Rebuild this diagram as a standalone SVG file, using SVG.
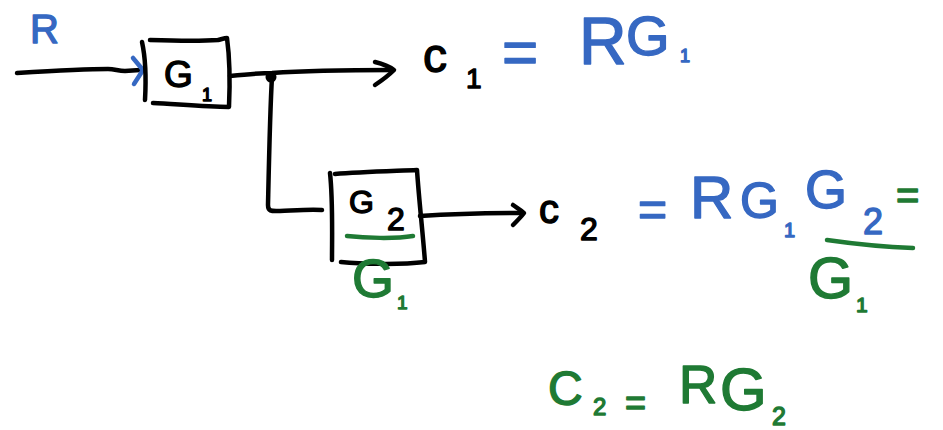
<svg xmlns="http://www.w3.org/2000/svg" width="943" height="430" viewBox="0 0 943 430">
<style>
.ln{fill:none;stroke:#000;stroke-width:4.5;stroke-linecap:round;stroke-linejoin:round}
.bl{fill:none;stroke:#3668c2;stroke-width:4.5;stroke-linecap:round;stroke-linejoin:round}
.gl{fill:none;stroke:#1f7a34;stroke-width:4.5;stroke-linecap:round;stroke-linejoin:round}
text{font-family:"Liberation Sans",Arial,sans-serif;stroke-width:1.4;stroke-linejoin:round}
.k{fill:#000;stroke:#000}.b{fill:#3668c2;stroke:#3668c2}.g{fill:#1f7a34;stroke:#1f7a34}
</style>
<rect width="943" height="430" fill="#fff"/>
<g id="connectors">
<path class="ln" d="M17,73 C50,71 90,69 108,69 C115,69 118,71 125,71 L140,70"/>
<path class="bl" d="M133,58 L143,70 L134,84"/>
<path class="ln" d="M230,76 C250,74 265,73 272,73 C300,71 340,70 393,70"/>
<path class="ln" d="M375,62 C383,64 390,67 394,70 C388,76 381,81 375,85"/>
<circle cx="271" cy="77" r="5.5" fill="#000"/>
<path class="ln" d="M272,77 C270,110 269,160 268,205 C268,212 272,211 280,211 C300,210 312,209 322,210"/>
<path class="ln" d="M420,216 C450,214 490,213 523,213"/>
<path class="ln" d="M513,205 C517,208 521,210 524,213 C521,217 517,221 513,225"/>
</g>
<g id="node-R">
<text class="b" x="30" y="43" font-size="40">R</text>
</g>
<g id="node-G1">
<path class="ln" d="M142,42 C146,60 146,82 145,100"/>
<path class="ln" d="M150,40 C180,41 205,41 218,40 C222,39 225,38 227,38 C230,60 230,85 229,107 C205,107 175,104 153,103"/>
<text class="k" x="164" y="87" font-size="37">G</text>
<text class="k" x="202" y="101" font-size="18">1</text>
</g>
<g id="node-G2">
<path class="ln" d="M330,173 C333,200 332,235 332,260"/>
<path class="ln" d="M335,174 C360,172 395,171 417,170 C419,200 423,235 425,262 C400,265 360,264 341,262"/>
<text class="k" x="349" y="213" font-size="32">G</text>
<text class="k" x="387" y="230" font-size="32">2</text>
<path class="gl" d="M347,236 C365,238 395,239 413,236"/>
<text class="g" x="352" y="297" font-size="54">G</text>
<text class="g" x="397" y="309" font-size="19">1</text>
</g>
<g id="node-C1">
<text class="k" x="423" y="72" font-size="48">c</text>
<text class="k" x="466" y="88" font-size="28">1</text>
<text class="b" x="502" y="73" font-size="62">=</text>
<text class="b" x="579" y="64" font-size="66">R</text>
<text class="b" x="626" y="55" font-size="56">G</text>
<text class="b" x="680" y="62" font-size="18">1</text>
</g>
<g id="node-C2">
<text class="k" x="539" y="223" font-size="40">c</text>
<text class="k" x="580" y="240" font-size="32">2</text>
<text class="b" x="638" y="226" font-size="50">=</text>
<text class="b" x="690" y="218" font-size="60">R</text>
<text class="b" x="740" y="218" font-size="50">G</text>
<text class="b" x="784" y="237" font-size="20">1</text>
<text class="b" x="805" y="208" font-size="54">G</text>
<text class="b" x="863" y="234" font-size="36">2</text>
<text class="g" x="896" y="209" font-size="40">=</text>
<path class="gl" d="M827,240 C855,244 885,247 913,248"/>
<text class="g" x="808" y="298" font-size="58">G</text>
<text class="g" x="856" y="312" font-size="21">1</text>
</g>
<g id="node-eq">
<text class="g" x="548" y="405" font-size="48">C</text>
<text class="g" x="593" y="415" font-size="24">2</text>
<text class="g" x="625" y="415" font-size="36">=</text>
<text class="g" x="679" y="403" font-size="53">R</text>
<text class="g" x="720" y="410" font-size="60">G</text>
<text class="g" x="772" y="425" font-size="25">2</text>
</g>
</svg>
